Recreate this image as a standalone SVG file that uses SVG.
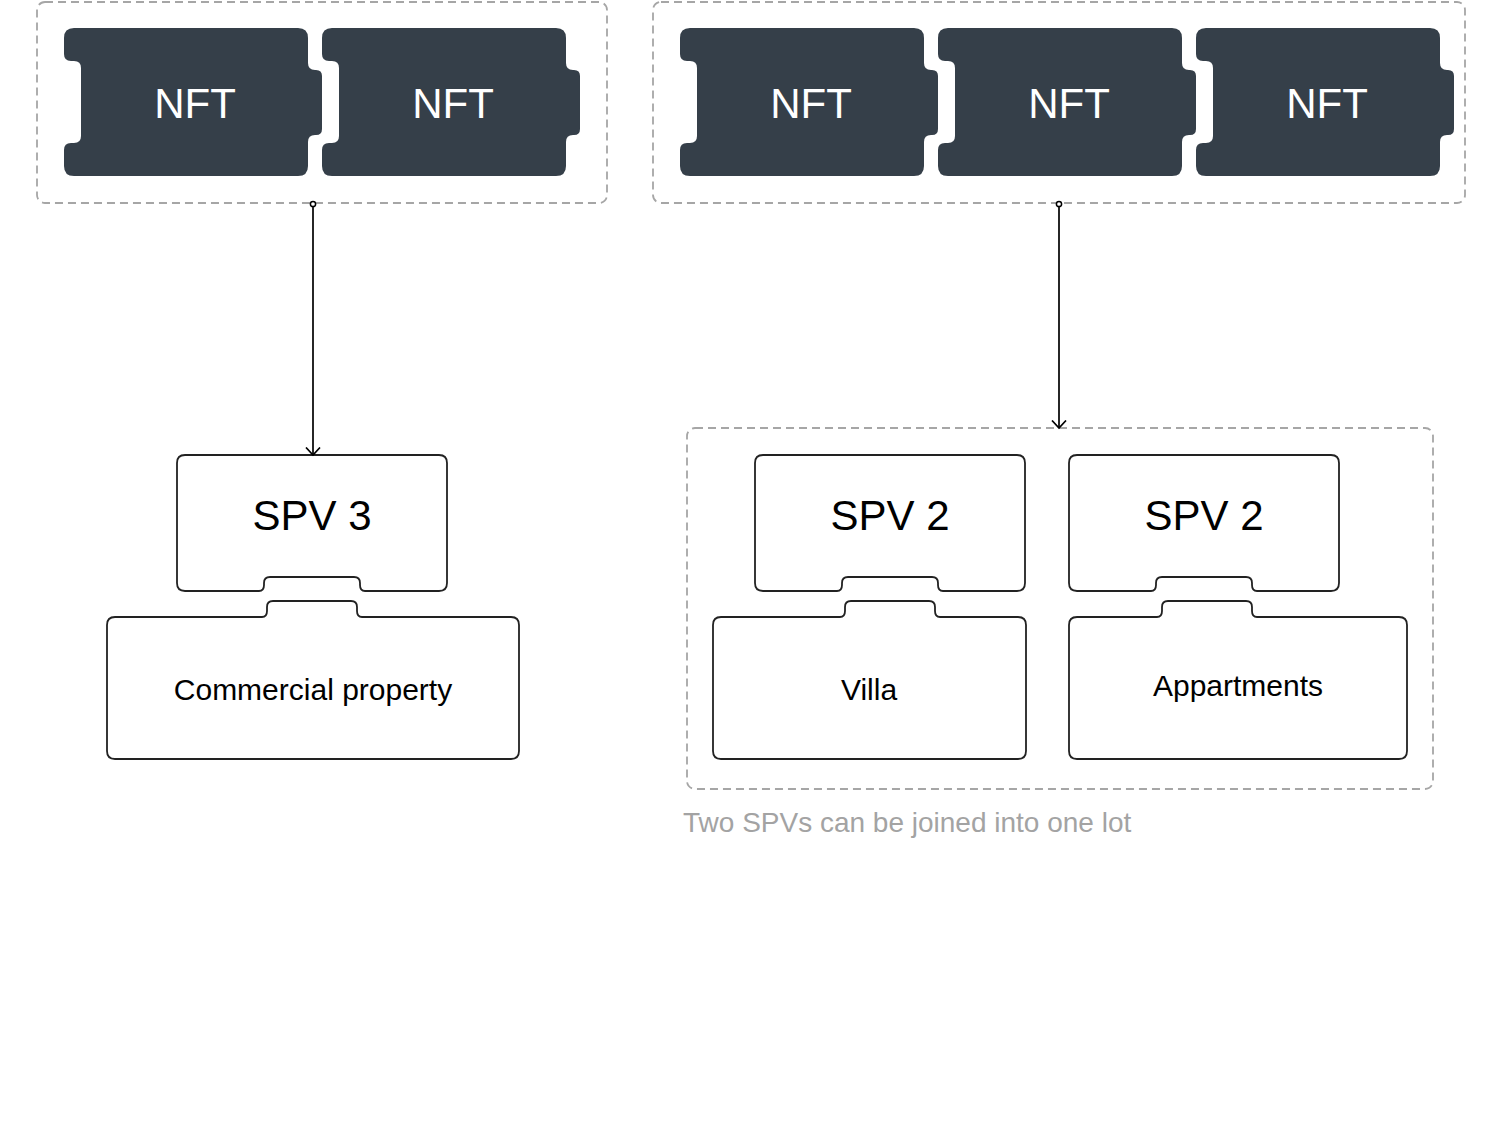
<svg xmlns="http://www.w3.org/2000/svg" width="1500" height="1128" viewBox="0 0 1500 1128">
  <style>
    .group { fill: none; stroke: #a6a6a6; stroke-width: 1.8; stroke-dasharray: 8 5; }
    .ticket { fill: #353f49; }
    .nft { font-family: "Liberation Sans", Arial, sans-serif; font-size: 42px; fill: #ffffff; text-anchor: middle; }
    .box { fill: #ffffff; stroke: #222222; stroke-width: 1.8; }
    .spv { font-family: "Liberation Sans", Arial, sans-serif; font-size: 42px; fill: #000000; text-anchor: middle; }
    .prop { font-family: "Liberation Sans", Arial, sans-serif; font-size: 30px; fill: #000000; text-anchor: middle; }
    .caption { font-family: "Liberation Sans", Arial, sans-serif; font-size: 28px; fill: #a3a3a3; }
    .conn { fill: none; stroke: #000000; stroke-width: 1.7; }
  </style>
  <defs>
    <path id="ticketShape" d="M 10,0 H 234 Q 244,0 244,10 V 35 Q 244,42 251,42 H 252 Q 258,42 258,48 V 101 Q 258,107 252,107 H 251 Q 244,107 244,114 V 138 Q 244,148 234,148 H 10 Q 0,148 0,138 V 122 Q 0,115 7,115 H 10 Q 17,115 17,108 V 40 Q 17,33 10,33 H 7 Q 0,33 0,26 V 10 Q 0,0 10,0 Z"/>
    <path id="spvShape" d="M 8,0 H 262 Q 270,0 270,8 V 128 Q 270,136 262,136 H 188 Q 183,136 183,130 V 128 Q 183,122 177,122 H 93 Q 87,122 87,128 V 130 Q 87,136 82,136 H 8 Q 0,136 0,128 V 8 Q 0,0 8,0 Z"/>
    <marker id="arrowOpen" viewBox="0 0 10 16" markerWidth="10" markerHeight="16" refX="8.5" refY="8" orient="auto" markerUnits="userSpaceOnUse">
      <path d="M 1,1 L 8.5,8 L 1,15" fill="none" stroke="#000000" stroke-width="1.7"/>
    </marker>
    <marker id="dotStart" viewBox="0 0 8 8" markerWidth="8" markerHeight="8" refX="4" refY="4" orient="auto" markerUnits="userSpaceOnUse">
      <circle cx="4" cy="4" r="2.6" fill="#ffffff" stroke="#000000" stroke-width="1.5"/>
    </marker>
  </defs>

  <rect width="1500" height="1128" fill="#ffffff"/>

  <!-- group containers -->
  <g id="nft-group-1"><rect class="group" x="37" y="2" width="570" height="201" rx="8"/></g>
  <g id="nft-group-2"><rect class="group" x="653" y="2" width="812" height="201" rx="8"/></g>
  <g id="lot-group"><rect class="group" x="687" y="428" width="746" height="361" rx="8"/></g>

  <!-- NFT tickets -->
  <g id="nft-1"><use href="#ticketShape" class="ticket" x="64" y="28"/><text class="nft" x="195" y="118">NFT</text></g>
  <g id="nft-2"><use href="#ticketShape" class="ticket" x="322" y="28"/><text class="nft" x="453" y="118">NFT</text></g>
  <g id="nft-3"><use href="#ticketShape" class="ticket" x="680" y="28"/><text class="nft" x="811" y="118">NFT</text></g>
  <g id="nft-4"><use href="#ticketShape" class="ticket" x="938" y="28"/><text class="nft" x="1069" y="118">NFT</text></g>
  <g id="nft-5"><use href="#ticketShape" class="ticket" x="1196" y="28"/><text class="nft" x="1327" y="118">NFT</text></g>

  <!-- SPV boxes -->
  <g id="spv-3"><use href="#spvShape" class="box" x="177" y="455"/><text class="spv" x="312" y="530">SPV 3</text></g>
  <g id="spv-2a"><use href="#spvShape" class="box" x="755" y="455"/><text class="spv" x="890" y="530">SPV 2</text></g>
  <g id="spv-2b"><use href="#spvShape" class="box" x="1069" y="455"/><text class="spv" x="1204" y="530">SPV 2</text></g>

  <!-- property boxes -->
  <g id="commercial-property">
    <path class="box" d="M 115,617 H 262 Q 267,617 267,611 V 607 Q 267,601 273,601 H 351 Q 357,601 357,607 V 611 Q 357,617 362,617 H 511 Q 519,617 519,625 V 751 Q 519,759 511,759 H 115 Q 107,759 107,751 V 625 Q 107,617 115,617 Z"/>
    <text class="prop" x="313" y="700">Commercial property</text>
  </g>
  <g id="villa">
    <path class="box" d="M 721,617 H 840 Q 845,617 845,611 V 607 Q 845,601 851,601 H 929 Q 935,601 935,607 V 611 Q 935,617 940,617 H 1018 Q 1026,617 1026,625 V 751 Q 1026,759 1018,759 H 721 Q 713,759 713,751 V 625 Q 713,617 721,617 Z"/>
    <text class="prop" x="869" y="700">Villa</text>
  </g>
  <g id="appartments">
    <path class="box" d="M 1077,617 H 1157 Q 1162,617 1162,611 V 607 Q 1162,601 1168,601 H 1246 Q 1252,601 1252,607 V 611 Q 1252,617 1257,617 H 1399 Q 1407,617 1407,625 V 751 Q 1407,759 1399,759 H 1077 Q 1069,759 1069,751 V 625 Q 1069,617 1077,617 Z"/>
    <text class="prop" x="1238" y="696">Appartments</text>
  </g>

  <!-- caption -->
  <g id="caption"><text class="caption" x="683" y="832">Two SPVs can be joined into one lot</text></g>

  <!-- connectors -->
  <g id="connectors">
    <path class="conn" d="M 313,204 V 455" marker-start="url(#dotStart)" marker-end="url(#arrowOpen)"/>
    <path class="conn" d="M 1059,204 V 428" marker-start="url(#dotStart)" marker-end="url(#arrowOpen)"/>
  </g>
</svg>
